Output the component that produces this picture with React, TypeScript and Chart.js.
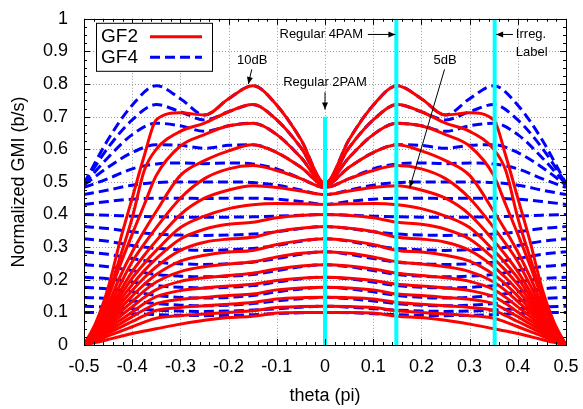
import React, { useEffect, useRef } from 'react';
import { Chart, registerables } from 'chart.js';

Chart.register(...registerables);

// theta grids (units of pi)
const thetaRed = [-0.5, -0.475, -0.45, -0.425, -0.4, -0.375, -0.35, -0.3, -0.25, -0.2, -0.15, -0.1, -0.05, 0, 0.05, 0.1, 0.15, 0.2, 0.25, 0.3, 0.35, 0.375, 0.4, 0.425, 0.45, 0.475, 0.5];
const thetaBlue = [-0.5, -0.45, -0.4, -0.35, -0.3, -0.25, -0.2, -0.15, -0.1, -0.05, 0, 0.05, 0.1, 0.15, 0.2, 0.25, 0.3, 0.35, 0.4, 0.45, 0.5];

const snrLabels = ['10dB', '9dB', '8dB', '7dB', '6dB', '5dB', '4dB', '3dB', '2dB', '1dB', '0dB', '-1dB', '-2dB', '-3dB', '-4dB', '-5dB', '-6dB'];

// GF2 (red, solid)
const gf2_p10 = [0, 0.07, 0.175, 0.32, 0.45, 0.58, 0.69, 0.712, 0.705, 0.755, 0.795, 0.735, 0.63, 0.495, 0.63, 0.735, 0.795, 0.755, 0.705, 0.712, 0.69, 0.58, 0.45, 0.32, 0.175, 0.07, 0];
const gf2_p9 = [0, 0.062, 0.155, 0.27, 0.39, 0.535, 0.6, 0.655, 0.68, 0.715, 0.737, 0.69, 0.605, 0.495, 0.605, 0.69, 0.737, 0.715, 0.68, 0.655, 0.6, 0.535, 0.39, 0.27, 0.155, 0.062, 0];
const gf2_p8 = [0, 0.058, 0.145, 0.245, 0.34, 0.43, 0.52, 0.61, 0.645, 0.672, 0.68, 0.645, 0.575, 0.493, 0.575, 0.645, 0.68, 0.672, 0.645, 0.61, 0.52, 0.43, 0.34, 0.245, 0.145, 0.058, 0];
const gf2_p7 = [0, 0.052, 0.125, 0.21, 0.285, 0.35, 0.41, 0.52, 0.565, 0.595, 0.614, 0.59, 0.545, 0.49, 0.545, 0.59, 0.614, 0.595, 0.565, 0.52, 0.41, 0.35, 0.285, 0.21, 0.125, 0.052, 0];
const gf2_p6 = [0, 0.047, 0.112, 0.185, 0.255, 0.31, 0.36, 0.45, 0.51, 0.54, 0.55, 0.535, 0.51, 0.483, 0.51, 0.535, 0.55, 0.54, 0.51, 0.45, 0.36, 0.31, 0.255, 0.185, 0.112, 0.047, 0];
const gf2_p5 = [0, 0.043, 0.1, 0.165, 0.225, 0.275, 0.32, 0.4, 0.45, 0.475, 0.488, 0.483, 0.472, 0.461, 0.472, 0.483, 0.488, 0.475, 0.45, 0.4, 0.32, 0.275, 0.225, 0.165, 0.1, 0.043, 0];
const gf2_p4 = [0, 0.039, 0.092, 0.15, 0.205, 0.25, 0.29, 0.36, 0.395, 0.418, 0.43, 0.434, 0.433, 0.431, 0.433, 0.434, 0.43, 0.418, 0.395, 0.36, 0.29, 0.25, 0.205, 0.15, 0.092, 0.039, 0];
const gf2_p3 = [0, 0.036, 0.085, 0.137, 0.185, 0.228, 0.265, 0.325, 0.355, 0.37, 0.376, 0.39, 0.397, 0.4, 0.397, 0.39, 0.376, 0.37, 0.355, 0.325, 0.265, 0.228, 0.185, 0.137, 0.085, 0.036, 0];
const gf2_p2 = [0, 0.033, 0.078, 0.124, 0.167, 0.206, 0.24, 0.29, 0.315, 0.325, 0.33, 0.348, 0.358, 0.363, 0.358, 0.348, 0.33, 0.325, 0.315, 0.29, 0.24, 0.206, 0.167, 0.124, 0.078, 0.033, 0];
const gf2_p1 = [0, 0.03, 0.071, 0.112, 0.15, 0.186, 0.216, 0.257, 0.275, 0.285, 0.29, 0.308, 0.32, 0.326, 0.32, 0.308, 0.29, 0.285, 0.275, 0.257, 0.216, 0.186, 0.15, 0.112, 0.071, 0.03, 0];
const gf2_0 = [0, 0.027, 0.064, 0.1, 0.133, 0.166, 0.193, 0.225, 0.24, 0.248, 0.255, 0.27, 0.281, 0.286, 0.281, 0.27, 0.255, 0.248, 0.24, 0.225, 0.193, 0.166, 0.133, 0.1, 0.064, 0.027, 0];
const gf2_m1 = [0, 0.024, 0.057, 0.088, 0.117, 0.146, 0.17, 0.195, 0.206, 0.213, 0.22, 0.233, 0.242, 0.246, 0.242, 0.233, 0.22, 0.213, 0.206, 0.195, 0.17, 0.146, 0.117, 0.088, 0.057, 0.024, 0];
const gf2_m2 = [0, 0.021, 0.05, 0.076, 0.101, 0.127, 0.148, 0.167, 0.175, 0.181, 0.186, 0.198, 0.205, 0.208, 0.205, 0.198, 0.186, 0.181, 0.175, 0.167, 0.148, 0.127, 0.101, 0.076, 0.05, 0.021, 0];
const gf2_m3 = [0, 0.018, 0.043, 0.065, 0.087, 0.108, 0.127, 0.14, 0.146, 0.152, 0.156, 0.169, 0.175, 0.177, 0.175, 0.169, 0.156, 0.152, 0.146, 0.14, 0.127, 0.108, 0.087, 0.065, 0.043, 0.018, 0];
const gf2_m4 = [0, 0.015, 0.036, 0.054, 0.072, 0.09, 0.106, 0.115, 0.12, 0.125, 0.13, 0.141, 0.145, 0.146, 0.145, 0.141, 0.13, 0.125, 0.12, 0.115, 0.106, 0.09, 0.072, 0.054, 0.036, 0.015, 0];
const gf2_m5 = [0, 0.012, 0.028, 0.042, 0.056, 0.07, 0.082, 0.09, 0.095, 0.1, 0.105, 0.115, 0.118, 0.119, 0.118, 0.115, 0.105, 0.1, 0.095, 0.09, 0.082, 0.07, 0.056, 0.042, 0.028, 0.012, 0];
const gf2_m6 = [0, 0.008, 0.017, 0.026, 0.035, 0.043, 0.05, 0.064, 0.076, 0.084, 0.088, 0.098, 0.1, 0.1, 0.1, 0.098, 0.088, 0.084, 0.076, 0.064, 0.05, 0.043, 0.035, 0.026, 0.017, 0.008, 0];

// GF4 (blue, dashed)
const gf4_p10 = [0.495, 0.63, 0.735, 0.795, 0.755, 0.705, 0.755, 0.795, 0.735, 0.63, 0.495, 0.63, 0.735, 0.795, 0.755, 0.705, 0.755, 0.795, 0.735, 0.63, 0.495];
const gf4_p9 = [0.495, 0.605, 0.69, 0.737, 0.715, 0.69, 0.715, 0.737, 0.69, 0.605, 0.495, 0.605, 0.69, 0.737, 0.715, 0.69, 0.715, 0.737, 0.69, 0.605, 0.495];
const gf4_p8 = [0.493, 0.575, 0.645, 0.68, 0.672, 0.655, 0.672, 0.68, 0.645, 0.575, 0.493, 0.575, 0.645, 0.68, 0.672, 0.655, 0.672, 0.68, 0.645, 0.575, 0.493];
const gf4_p7 = [0.49, 0.545, 0.59, 0.614, 0.612, 0.603, 0.612, 0.614, 0.59, 0.545, 0.49, 0.545, 0.59, 0.614, 0.612, 0.603, 0.612, 0.614, 0.59, 0.545, 0.49];
const gf4_p6 = [0.483, 0.51, 0.54, 0.555, 0.558, 0.556, 0.558, 0.555, 0.54, 0.51, 0.483, 0.51, 0.54, 0.555, 0.558, 0.556, 0.558, 0.555, 0.54, 0.51, 0.483];
const gf4_p5 = [0.461, 0.475, 0.49, 0.498, 0.5, 0.5, 0.5, 0.498, 0.49, 0.475, 0.461, 0.475, 0.49, 0.498, 0.5, 0.5, 0.5, 0.498, 0.49, 0.475, 0.461];
const gf4_p4 = [0.431, 0.44, 0.447, 0.45, 0.45, 0.449, 0.45, 0.45, 0.447, 0.44, 0.431, 0.44, 0.447, 0.45, 0.45, 0.449, 0.45, 0.45, 0.447, 0.44, 0.431];
const gf4_p3 = [0.4, 0.398, 0.395, 0.393, 0.392, 0.392, 0.392, 0.393, 0.395, 0.398, 0.4, 0.398, 0.395, 0.393, 0.392, 0.392, 0.392, 0.393, 0.395, 0.398, 0.4];
const gf4_p2 = [0.363, 0.357, 0.347, 0.34, 0.337, 0.336, 0.337, 0.34, 0.347, 0.357, 0.363, 0.357, 0.347, 0.34, 0.337, 0.336, 0.337, 0.34, 0.347, 0.357, 0.363];
const gf4_p1 = [0.326, 0.318, 0.305, 0.296, 0.292, 0.29, 0.292, 0.296, 0.305, 0.318, 0.326, 0.318, 0.305, 0.296, 0.292, 0.29, 0.292, 0.296, 0.305, 0.318, 0.326];
const gf4_0 = [0.286, 0.278, 0.265, 0.254, 0.249, 0.247, 0.249, 0.254, 0.265, 0.278, 0.286, 0.278, 0.265, 0.254, 0.249, 0.247, 0.249, 0.254, 0.265, 0.278, 0.286];
const gf4_m1 = [0.246, 0.24, 0.228, 0.216, 0.211, 0.209, 0.211, 0.216, 0.228, 0.24, 0.246, 0.24, 0.228, 0.216, 0.211, 0.209, 0.211, 0.216, 0.228, 0.24, 0.246];
const gf4_m2 = [0.208, 0.203, 0.193, 0.182, 0.177, 0.175, 0.177, 0.182, 0.193, 0.203, 0.208, 0.203, 0.193, 0.182, 0.177, 0.175, 0.177, 0.182, 0.193, 0.203, 0.208];
const gf4_m3 = [0.177, 0.172, 0.163, 0.152, 0.146, 0.144, 0.146, 0.152, 0.163, 0.172, 0.177, 0.172, 0.163, 0.152, 0.146, 0.144, 0.146, 0.152, 0.163, 0.172, 0.177];
const gf4_m4 = [0.146, 0.142, 0.135, 0.127, 0.122, 0.12, 0.122, 0.127, 0.135, 0.142, 0.146, 0.142, 0.135, 0.127, 0.122, 0.12, 0.122, 0.127, 0.135, 0.142, 0.146];
const gf4_m5 = [0.119, 0.116, 0.111, 0.107, 0.104, 0.103, 0.104, 0.107, 0.111, 0.116, 0.119, 0.116, 0.111, 0.107, 0.104, 0.103, 0.104, 0.107, 0.111, 0.116, 0.119];
const gf4_m6 = [0.1, 0.099, 0.096, 0.093, 0.091, 0.09, 0.091, 0.093, 0.096, 0.099, 0.1, 0.099, 0.096, 0.093, 0.091, 0.09, 0.091, 0.093, 0.096, 0.099, 0.1];

const gf2Series = [gf2_p10, gf2_p9, gf2_p8, gf2_p7, gf2_p6, gf2_p5, gf2_p4, gf2_p3, gf2_p2, gf2_p1, gf2_0, gf2_m1, gf2_m2, gf2_m3, gf2_m4, gf2_m5, gf2_m6];
const gf4Series = [gf4_p10, gf4_p9, gf4_p8, gf4_p7, gf4_p6, gf4_p5, gf4_p4, gf4_p3, gf4_p2, gf4_p1, gf4_0, gf4_m1, gf4_m2, gf4_m3, gf4_m4, gf4_m5, gf4_m6];

// vertical marker lines (cyan): regular 2PAM, regular 4PAM, irregular label
const markerTheta = [0, 0.148, 0.352];
const markerTop = [0.7, 1, 1];

const xTicks = [-0.5, -0.4, -0.3, -0.2, -0.1, 0, 0.1, 0.2, 0.3, 0.4, 0.5];
const yTicks = [0, 0.1, 0.2, 0.3, 0.4, 0.5, 0.6, 0.7, 0.8, 0.9, 1];

const FONT = "'Liberation Sans', Arial, Helvetica, sans-serif";

function fmt(v: number) {
  const n = Math.round(v * 10) / 10;
  return n === 0 ? '0' : String(n);
}

const framePlugin = {
  id: 'gnuFrame',
  beforeDatasetsDraw(chart: any) {
    const { ctx, chartArea: a, scales } = chart;
    const x = scales.x, y = scales.y;
    ctx.save();
    ctx.strokeStyle = '#9a9a9a';
    ctx.lineWidth = 1;
    ctx.setLineDash([1, 2]);
    xTicks.forEach((t) => {
      if (t <= -0.5 || t >= 0.5) return;
      const px = Math.round(x.getPixelForValue(t)) + 0.5;
      ctx.beginPath(); ctx.moveTo(px, a.top); ctx.lineTo(px, a.bottom); ctx.stroke();
    });
    yTicks.forEach((t) => {
      if (t <= 0 || t >= 1) return;
      const py = Math.round(y.getPixelForValue(t)) + 0.5;
      ctx.beginPath(); ctx.moveTo(a.left, py); ctx.lineTo(a.right, py); ctx.stroke();
    });
    ctx.restore();
  },
  afterDatasetsDraw(chart: any) {
    const { ctx, chartArea: a, scales } = chart;
    const x = scales.x, y = scales.y;
    ctx.save();
    ctx.setLineDash([]);
    ctx.strokeStyle = '#000';
    ctx.lineWidth = 1;
    const tick = (px: number, len: number) => {
      ctx.beginPath(); ctx.moveTo(px, a.bottom); ctx.lineTo(px, a.bottom - len); ctx.stroke();
      ctx.beginPath(); ctx.moveTo(px, a.top); ctx.lineTo(px, a.top + len); ctx.stroke();
    };
    const tickY = (py: number, len: number) => {
      ctx.beginPath(); ctx.moveTo(a.left, py); ctx.lineTo(a.left + len, py); ctx.stroke();
      ctx.beginPath(); ctx.moveTo(a.right, py); ctx.lineTo(a.right - len, py); ctx.stroke();
    };
    for (let i = 0; i <= 50; i++) {
      const t = -0.5 + i * 0.02;
      const px = Math.round(x.getPixelForValue(t)) + 0.5;
      tick(px, i % 5 === 0 ? 6 : 3);
    }
    for (let i = 0; i <= 40; i++) {
      const t = i * 0.025;
      const py = Math.round(y.getPixelForValue(t)) + 0.5;
      tickY(py, i % 4 === 0 ? 6 : 3);
    }
    ctx.strokeRect(Math.round(a.left) + 0.5, Math.round(a.top) + 0.5, Math.round(a.right - a.left), Math.round(a.bottom - a.top));

    // legend
    const lx = a.left + 12, ly = a.top + 4;
    ctx.fillStyle = '#fff';
    ctx.fillRect(lx, ly, 116, 48);
    ctx.strokeStyle = '#000';
    ctx.strokeRect(lx + 0.5, ly + 0.5, 116, 48);
    ctx.fillStyle = '#000';
    ctx.font = `19px ${FONT}`;
    ctx.textAlign = 'left';
    ctx.textBaseline = 'middle';
    ctx.fillText('GF2', lx + 5, ly + 14);
    ctx.fillText('GF4', lx + 5, ly + 35);
    ctx.lineWidth = 3;
    ctx.strokeStyle = '#ff0000';
    ctx.beginPath(); ctx.moveTo(lx + 54, ly + 14); ctx.lineTo(lx + 106, ly + 14); ctx.stroke();
    ctx.strokeStyle = '#0000ff';
    ctx.setLineDash([10, 5]);
    ctx.beginPath(); ctx.moveTo(lx + 54, ly + 34.5); ctx.lineTo(lx + 106, ly + 34.5); ctx.stroke();
    ctx.setLineDash([]);

    // annotations
    const P = (t: number, v: number) => [x.getPixelForValue(t), y.getPixelForValue(v)];
    ctx.font = `13px ${FONT}`;
    ctx.fillStyle = '#000';
    const text = (t: number, v: number, s: string, align: CanvasTextAlign) => {
      const [px, py] = P(t, v);
      ctx.textAlign = align;
      ctx.textBaseline = 'middle';
      ctx.fillText(s, px, py);
    };
    const arrow = (t1: number, v1: number, t2: number, v2: number) => {
      const [x1, y1] = P(t1, v1);
      const [x2, y2] = P(t2, v2);
      ctx.strokeStyle = '#000';
      ctx.lineWidth = 1;
      ctx.beginPath(); ctx.moveTo(x1, y1); ctx.lineTo(x2, y2); ctx.stroke();
      const ang = Math.atan2(y2 - y1, x2 - x1);
      const L = 7, W = 3;
      ctx.beginPath();
      ctx.moveTo(x2, y2);
      ctx.lineTo(x2 - L * Math.cos(ang) + W * Math.sin(ang), y2 - L * Math.sin(ang) - W * Math.cos(ang));
      ctx.lineTo(x2 - L * Math.cos(ang) - W * Math.sin(ang), y2 - L * Math.sin(ang) + W * Math.cos(ang));
      ctx.closePath();
      ctx.fill();
    };
    text(-0.151, 0.872, '10dB', 'center');
    arrow(-0.152, 0.845, -0.159, 0.8);
    text(0.0, 0.806, 'Regular 2PAM', 'center');
    arrow(0.0, 0.775, 0.0, 0.722);
    text(0.079, 0.952, 'Regular 4PAM', 'right');
    arrow(0.089, 0.952, 0.146, 0.952);
    text(0.396, 0.952, 'Irreg.', 'left');
    text(0.396, 0.896, 'Label', 'left');
    arrow(0.39, 0.952, 0.355, 0.952);
    text(0.249, 0.872, '5dB', 'center');
    arrow(0.248, 0.845, 0.176, 0.483);
    ctx.restore();
  },
};

export default function App() {
  const ref = useRef<HTMLCanvasElement | null>(null);
  useEffect(() => {
    if (!ref.current) return;
    const datasets: any[] = [];
    markerTheta.forEach((t, i) => {
      datasets.push({
        label: 'marker' + i,
        data: [{ x: t, y: 0 }, { x: t, y: markerTop[i] }],
        borderColor: '#00ffff',
        borderWidth: 4,
        pointRadius: 0,
        tension: 0,
      });
    });
    gf2Series.forEach((arr, i) => {
      datasets.push({
        label: 'GF2 ' + snrLabels[i],
        data: thetaRed.map((t, j) => ({ x: t, y: arr[j] })),
        borderColor: '#ff0000',
        borderWidth: 3,
        pointRadius: 0,
        cubicInterpolationMode: 'monotone',
      });
    });
    gf4Series.forEach((arr, i) => {
      datasets.push({
        label: 'GF4 ' + snrLabels[i],
        data: thetaBlue.map((t, j) => ({ x: t, y: arr[j] })),
        borderColor: '#0000ff',
        borderWidth: 3,
        borderDash: [10, 5],
        pointRadius: 0,
        cubicInterpolationMode: 'monotone',
      });
    });
    const chart = new Chart(ref.current, {
      type: 'line',
      data: { datasets },
      plugins: [framePlugin],
      options: {
        animation: false,
        responsive: false,
        devicePixelRatio: 1,
        layout: { padding: { left: 0, right: 17, top: 10, bottom: 0 } },
        plugins: { legend: { display: false }, tooltip: { enabled: false } },
        scales: {
          x: {
            type: 'linear',
            min: -0.5,
            max: 0.5,
            grid: { display: false },
            border: { display: false },
            afterBuildTicks: (s: any) => { s.ticks = xTicks.map((v) => ({ value: v })); },
            ticks: { color: '#000', font: { family: FONT, size: 18 }, padding: 3, autoSkip: false, maxRotation: 0, callback: (v: any) => fmt(Number(v)) },
            title: { display: true, text: 'theta (pi)', color: '#000', font: { family: FONT, size: 18 }, padding: { top: 0, bottom: 2 } },
            afterFit: (s: any) => { s.height = 64; },
          },
          y: {
            type: 'linear',
            min: 0,
            max: 1,
            grid: { display: false },
            border: { display: false },
            afterBuildTicks: (s: any) => { s.ticks = yTicks.map((v) => ({ value: v })); },
            ticks: { color: '#000', font: { family: FONT, size: 18 }, padding: 8, autoSkip: false, callback: (v: any) => fmt(Number(v)) },
            title: { display: true, text: 'Normalized GMI (b/s)', color: '#000', font: { family: FONT, size: 18 }, padding: { top: 8, bottom: 0 } },
            afterFit: (s: any) => { s.width = 84; },
          },
        },
      } as any,
    });
    return () => chart.destroy();
  }, []);
  return (
    <div style={{ position: 'absolute', left: 0, top: 0, width: 583, height: 409, background: '#fff' }}>
      <canvas ref={ref} width={583} height={409} style={{ display: 'block', width: 583, height: 409 }} />
    </div>
  );
}
